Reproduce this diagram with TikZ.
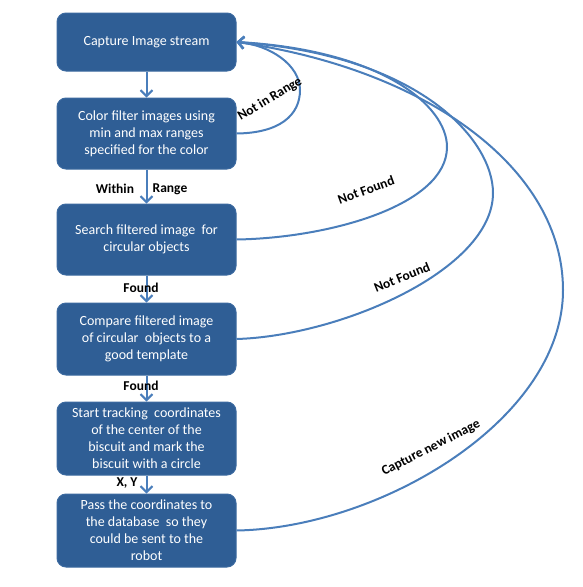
\documentclass[tikz,border=0pt]{standalone}
\usepackage{fontspec}
\setmainfont{Carlito}
\usepackage{tikz}
\usetikzlibrary{arrows.meta}
\definecolor{boxblue}{RGB}{47,94,149}
\definecolor{boxline}{RGB}{60,106,160}
\definecolor{flowblue}{RGB}{74,126,187}

\begin{document}
\begin{tikzpicture}[x=1pt,y=-1pt,
    stage/.style={draw=boxline,fill=boxblue,rounded corners=9pt,line width=1pt,
        text=white,minimum width=179pt,inner ysep=1pt,align=center,
        font=\fontsize{14}{17}\selectfont},
    flow/.style={draw=flowblue,line width=2pt,-{Straight Barb[length=6pt,width=12pt]}},
    lbl/.style={font=\fontsize{13.5}{15}\selectfont\bfseries}]
            \useasboundingbox (0,0) rectangle (583,587);

            \node[stage,minimum height=58pt] (b1) at (146.5,42) {Capture Image stream};
            \node[stage,minimum height=71pt] (b2) at (146.5,133.5) {Color filter images using\\min and max ranges\\specified for the color};
            \node[stage,minimum height=71pt] (b3) at (146.5,239.5) {Search filtered image\ \ for\\circular objects};
            \node[stage,minimum height=72pt] (b4) at (146.5,339) {Compare filtered image\\of circular\ \ objects to a\\good template};
            \node[stage,minimum height=73pt] (b5) at (146.5,438.5) {Start tracking\ \ coordinates\\of the center of the\\biscuit and mark the\\biscuit with a circle};
            \node[stage,minimum height=73pt] (b6) at (146.5,530.5) {Pass the coordinates to\\the database\ \ so they\\could be sent to the\\robot};

            \draw[flow] (b1) -- (b2);
            \draw[flow] (b2) -- (b3);
            \draw[flow] (b3) -- (b4);
            \draw[flow] (b4) -- (b5);
            \draw[flow] (b5) -- (b6);

            \node[lbl] (within) at (115,189) {Within};
            \node[lbl] (range) at (170,189) {Range};
            \node[lbl] (found1) at (141,288) {Found};
            \node[lbl] (found2) at (141,386) {Found};
            \node[lbl] (xy) at (127,483) {X, Y};

            \draw[flow] (b2.east) .. controls (280,133) and (300,115) .. (300,90) .. controls (300,65) and (270,45) .. (b1.east);
            \draw[flow] (b3.east) .. controls (330,238) and (447,205) .. (447,147) .. controls (447,105) and (380,50) .. (b1.east);
            \draw[flow] (b4.east) .. controls (340,336) and (493,270) .. (493,193) .. controls (493,140) and (420,55) .. (b1.east);
            \draw[flow] (b6.east) .. controls (380,528) and (563,420) .. (563,290) .. controls (563,170) and (430,70) .. (b1.east);

            \node[lbl,rotate=31] (notrange) at (270,99) {Not in Range};
            \node[lbl,rotate=20] (notfound1) at (366,190) {Not Found};
            \node[lbl,rotate=22] (notfound2) at (402,277) {Not Found};
            \node[lbl,rotate=27] (capnew) at (431,448) {Capture new image};
\end{tikzpicture}
\end{document}
